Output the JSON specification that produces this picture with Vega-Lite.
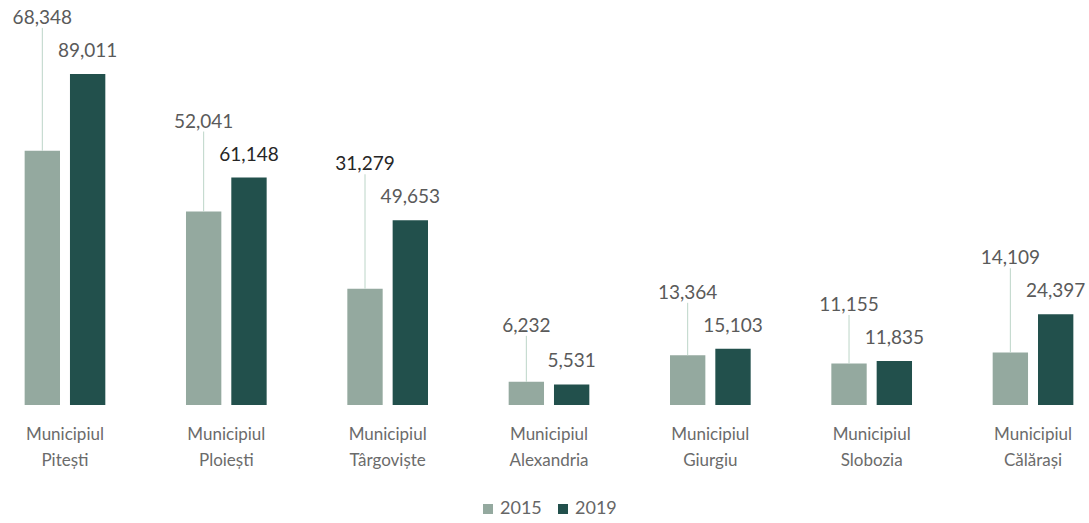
{
  "$schema": "https://vega.github.io/schema/vega-lite/v6.json",
  "width": 1080,
  "height": 372,
  "autosize": {"type": "none"},
  "padding": {"left": 9, "top": 33, "right": 0, "bottom": 118},
  "background": "white",
  "config": {"view": {"stroke": null}, "font": "Lato"},
  "data": {
    "values": [
      {"municipiu": "Municipiul Pitești", "an": "2015", "valoare": 68348},
      {"municipiu": "Municipiul Pitești", "an": "2019", "valoare": 89011},
      {"municipiu": "Municipiul Ploiești", "an": "2015", "valoare": 52041},
      {"municipiu": "Municipiul Ploiești", "an": "2019", "valoare": 61148},
      {"municipiu": "Municipiul Târgoviște", "an": "2015", "valoare": 31279},
      {"municipiu": "Municipiul Târgoviște", "an": "2019", "valoare": 49653},
      {"municipiu": "Municipiul Alexandria", "an": "2015", "valoare": 6232},
      {"municipiu": "Municipiul Alexandria", "an": "2019", "valoare": 5531},
      {"municipiu": "Municipiul Giurgiu", "an": "2015", "valoare": 13364},
      {"municipiu": "Municipiul Giurgiu", "an": "2019", "valoare": 15103},
      {"municipiu": "Municipiul Slobozia", "an": "2015", "valoare": 11155},
      {"municipiu": "Municipiul Slobozia", "an": "2019", "valoare": 11835},
      {"municipiu": "Municipiul Călărași", "an": "2015", "valoare": 14109},
      {"municipiu": "Municipiul Călărași", "an": "2019", "valoare": 24397}
    ]
  },
  "transform": [
    {"joinaggregate": [{"op": "max", "field": "valoare", "as": "maxVal"}], "groupby": ["municipiu"]}
  ],
  "encoding": {
    "x": {
      "field": "municipiu", "type": "nominal", "sort": null,
      "scale": {"paddingInner": 0.5, "paddingOuter": 0.097},
      "axis": {
        "title": null, "labelAngle": 0, "domain": false, "ticks": false,
        "labelExpr": "split(datum.label, ' ')",
        "labelFontSize": 17, "labelColor": "#6b6b6b", "labelLineHeight": 26,
        "labelPadding": 21, "labelFont": "Lato"
      }
    },
    "xOffset": {"field": "an", "type": "nominal", "scale": {"paddingInner": 0.22, "paddingOuter": 0}}
  },
  "layer": [
    {
      "mark": {"type": "bar"},
      "encoding": {
        "y": {"field": "valoare", "type": "quantitative", "scale": {"domain": [0, 100000], "nice": false}, "axis": null},
        "color": {
          "field": "an", "type": "nominal",
          "scale": {"domain": ["2015", "2019"], "range": ["#94a99f", "#22504c"]},
          "legend": {
            "orient": "none", "legendX": 470, "legendY": 467, "direction": "horizontal",
            "title": null, "symbolType": "square", "symbolSize": 100, "symbolStrokeWidth": 0,
            "labelFontSize": 18, "labelColor": "#666666", "labelFont": "Lato", "columnPadding": 12, "labelOffset": 3
          }
        }
      }
    },
    {
      "transform": [{"filter": "datum.an === '2015'"}],
      "mark": {"type": "rule", "color": "#bcd5c8", "strokeWidth": 1, "y2Offset": -46},
      "encoding": {
        "y": {"field": "valoare", "type": "quantitative"},
        "y2": {"field": "maxVal"}
      }
    },
    {
      "transform": [{"filter": "datum.an === '2015'"}],
      "mark": {"type": "text", "baseline": "middle", "dy": -56, "fontSize": 19, "font": "Lato"},
      "encoding": {
        "y": {"field": "maxVal", "type": "quantitative"},
        "text": {"field": "valoare", "type": "quantitative", "format": ","},
        "color": {
          "condition": {"test": "datum.municipiu === 'Municipiul Târgoviște'", "value": "#262626"},
          "value": "#5a5a5a"
        }
      }
    },
    {
      "transform": [{"filter": "datum.an === '2019'"}],
      "mark": {"type": "text", "baseline": "middle", "dy": -23, "fontSize": 19, "font": "Lato"},
      "encoding": {
        "y": {"field": "valoare", "type": "quantitative"},
        "text": {"field": "valoare", "type": "quantitative", "format": ","},
        "color": {
          "condition": {"test": "datum.municipiu === 'Municipiul Ploiești'", "value": "#262626"},
          "value": "#5a5a5a"
        }
      }
    }
  ]
}
